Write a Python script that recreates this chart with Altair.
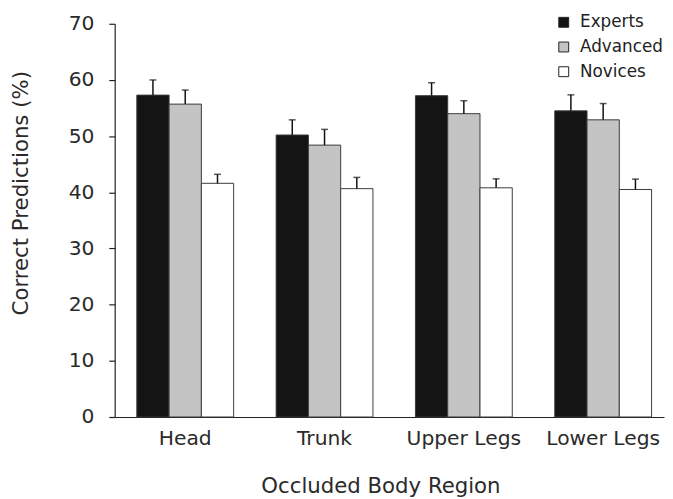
import altair as alt
import pandas as pd

regions = ["Head", "Trunk", "Upper Legs", "Lower Legs"]
groups = ["Experts", "Advanced", "Novices"]
experts = [57.3, 50.2, 57.2, 54.5]
experts_err = [2.7, 2.7, 2.3, 2.85]
advanced = [55.7, 48.4, 54.0, 52.9]
advanced_err = [2.5, 2.8, 2.3, 2.9]
novices = [41.6, 40.65, 40.8, 40.5]
novices_err = [1.6, 2.0, 1.6, 1.85]
colors = ["#141414", "#c3c4c3", "#ffffff"]

rows = []
for g, vals, errs in zip(groups, [experts, advanced, novices], [experts_err, advanced_err, novices_err]):
    for r, v, e in zip(regions, vals, errs):
        rows.append({"region": r, "group": g, "value": v, "upper": v + e})
df = pd.DataFrame(rows)

FONT = "DejaVu Sans"

base = alt.Chart(df).encode(
    x=alt.X(
        "region:N",
        sort=regions,
        scale=alt.Scale(paddingInner=0.305, paddingOuter=0.124, align=0.64),
        axis=alt.Axis(
            title="Occluded Body Region",
            labelAngle=0,
            ticks=False,
            labelPadding=12,
            titleX=269,
            titleY=70,
            titleBaseline="middle",
            titleAlign="center",
        ),
    ),
    xOffset=alt.XOffset("group:N", sort=groups, scale=alt.Scale(paddingInner=0, paddingOuter=0)),
)

bars = base.mark_bar(stroke="#3a3a3a", strokeWidth=1).encode(
    y=alt.Y(
        "value:Q",
        scale=alt.Scale(domain=[0, 70], nice=False),
        axis=alt.Axis(
            values=list(range(0, 71, 10)),
            title="Correct Predictions (%)",
            grid=False,
            tickSize=6,
            labelPadding=15,
            titleX=-94,
            titleY=171,
            titleAngle=-90,
            titleBaseline="middle",
            titleAlign="center",
        ),
    ),
    color=alt.Color(
        "group:N",
        sort=groups,
        scale=alt.Scale(domain=groups, range=colors),
        legend=alt.Legend(
            title=None,
            orient="none",
            legendX=446,
            legendY=-10,
            labelFontSize=17,
            labelFont=FONT,
            labelColor="#222",
            symbolType="square",
            symbolSize=100,
            symbolStrokeColor="#222",
            symbolStrokeWidth=1,
            labelOffset=8,
            rowPadding=7,
        ),
    ),
)

rules = base.mark_rule(color="#111", strokeWidth=1.5).encode(
    y="value:Q", y2="upper:Q"
)
caps = base.mark_tick(color="#111", thickness=1.5, size=7).encode(y="upper:Q")

chart = (
    alt.layer(bars, rules, caps)
    .properties(
        width=556,
        height=398,
        autosize=alt.AutoSizeParams(type="none"),
        padding={"left": 108, "top": 13, "right": 1, "bottom": 78},
    )
    .configure_view(stroke=None)
    .configure_axis(
        labelFont=FONT,
        titleFont=FONT,
        labelFontSize=20.5,
        titleFontSize=21.5,
        labelColor="#2a2a2a",
        titleColor="#2a2a2a",
        titleFontWeight="normal",
        domainColor="#222",
        tickColor="#222",
        domainWidth=1.2,
        tickWidth=1.2,
    )
)

chart.save("out.html", embed_options={"renderer": "svg", "actions": False})
